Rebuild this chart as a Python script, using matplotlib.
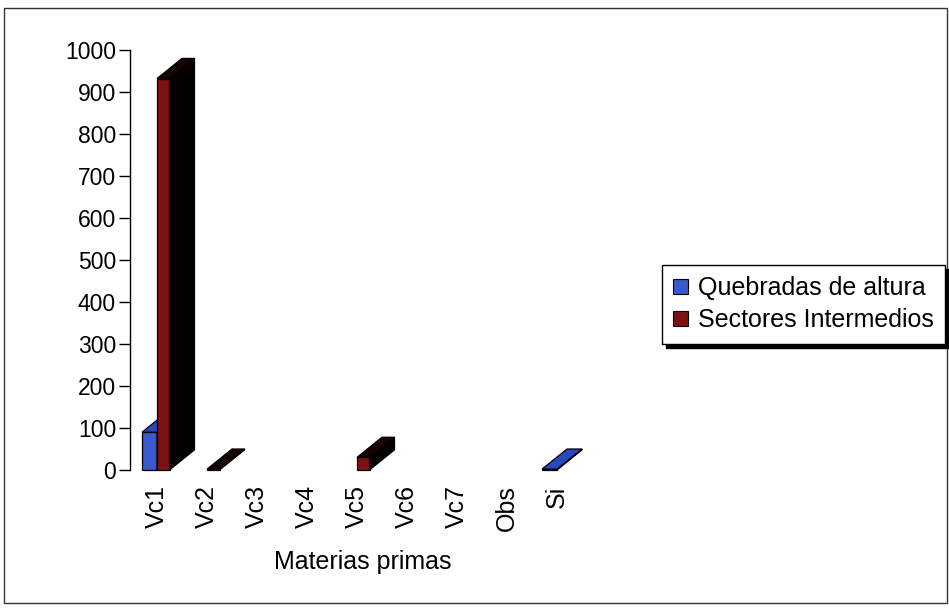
import numpy as np
import matplotlib.pyplot as plt
from matplotlib.patches import Polygon, Patch, Rectangle

plt.rcParams['font.family'] = ['Liberation Sans', 'DejaVu Sans']

# Data
categorias = ['Vc1', 'Vc2', 'Vc3', 'Vc4', 'Vc5', 'Vc6', 'Vc7', 'Obs', 'Si']
quebradas = [90, 0, 0, 0, 0, 0, 0, 0, 2]
sectores = [932, 2, 0, 0, 30, 0, 0, 0, 0]
series_names = ['Quebradas de altura', 'Sectores Intermedios']

# colours: front, top, side
blue = ('#3b58cc', '#2c48c0', '#0a0c20')
red = ('#7d1212', '#140404', '#050000')

# pseudo-3D depth offsets (x in category units, y in data units)
DX, DY = 0.5, 48


def bar3d(ax, x0, w, h, cols):
    front, top, side = cols
    kw = dict(edgecolor='black', linewidth=0.9, clip_on=False, joinstyle='miter')
    ax.add_patch(Polygon([(x0, 0), (x0 + w, 0), (x0 + w, h), (x0, h)],
                         closed=True, facecolor=front, **kw))
    ax.add_patch(Polygon([(x0 + w, 0), (x0 + w + DX, DY), (x0 + w + DX, h + DY),
                          (x0 + w, h)], closed=True, facecolor=side, **kw))
    ax.add_patch(Polygon([(x0, h), (x0 + w, h), (x0 + w + DX, h + DY),
                          (x0 + DX, h + DY)], closed=True, facecolor=top, **kw))


fig = plt.figure(figsize=(9.49, 6.08), dpi=100)
ax = fig.add_axes([130 / 949, 1 - 470 / 608, 500 / 949, 420 / 608])

x = np.arange(len(categorias))
for i in x:
    if quebradas[i] > 0:
        bar3d(ax, i - 0.3, 0.3, quebradas[i], blue)
    if sectores[i] > 0:
        bar3d(ax, i, 0.25, sectores[i], red)

ax.set_xlim(-0.54, 9.46)
ax.set_ylim(0, 1000)
ax.set_yticks(np.arange(0, 1001, 100))
ax.set_xticks(x)
ax.set_xticklabels(categorias, rotation=90, fontsize=18)
ax.tick_params(axis='x', length=0, pad=11)
ax.tick_params(axis='y', direction='out', length=8, width=1, labelsize=16.5, pad=2)
for s in ['top', 'right', 'bottom']:
    ax.spines[s].set_visible(False)
ax.spines['left'].set_linewidth(1)
ax.set_xlabel('Materias primas', fontsize=18)
ax.xaxis.set_label_coords(0.465, -0.19)

handles = [Patch(facecolor=blue[0], edgecolor='black', linewidth=0.8),
           Patch(facecolor=red[0], edgecolor='black', linewidth=0.8)]
leg = fig.legend(handles, series_names, loc='upper left',
                 bbox_to_anchor=(662 / 949, 1 - 265 / 608),
                 bbox_transform=fig.transFigure, fontsize=18,
                 handlelength=0.6, handleheight=0.6, handletextpad=0.4,
                 borderpad=0.45, labelspacing=0.32, borderaxespad=0,
                 fancybox=False, framealpha=1,
                 shadow={'ox': 3, 'oy': -3, 'color': 'black', 'alpha': 1})
leg.get_frame().set_edgecolor('black')
leg.get_frame().set_linewidth(1)

# outer chart border
fig.add_artist(Rectangle((4 / 949, 1 - 603 / 608), 943 / 949, 595 / 608,
                         transform=fig.transFigure, fill=False,
                         edgecolor='#333333', linewidth=1))

fig.savefig('out.png', dpi=100)
